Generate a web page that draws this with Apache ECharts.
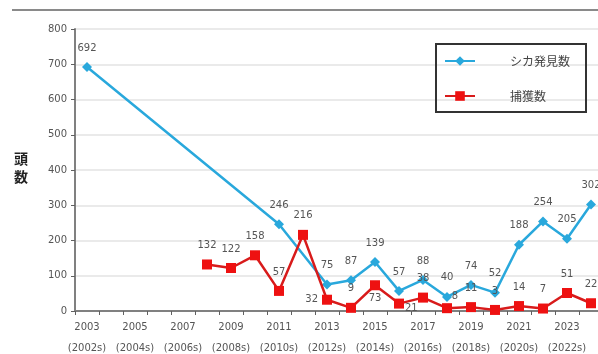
<!DOCTYPE html>
<html><head><meta charset="utf-8">
<script src="https://cdn.jsdelivr.net/npm/echarts@6/dist/echarts.min.js"></script>
<style>html,body{margin:0;padding:0;background:#fff}#c{width:598px;height:354px}</style>
</head><body><div id="c"></div>
<script>
const years = ['2003','2004','2005','2006','2007','2008','2009','2010','2011','2012','2013','2014','2015','2016','2017','2018','2019','2020','2021','2022','2023','2024'];
const yearLabels = {'2003':'(2002s)','2005':'(2004s)','2007':'(2006s)','2009':'(2008s)','2011':'(2010s)','2013':'(2012s)','2015':'(2014s)','2017':'(2016s)','2019':'(2018s)','2021':'(2020s)','2023':'(2022s)'};
const deerSighted = [692,null,null,null,null,null,null,null,246,null,75,87,139,57,88,40,74,52,188,254,205,302];
const captured = [null,null,null,null,null,132,122,158,57,216,32,9,73,21,38,8,11,3,14,7,51,22];
const yTicks = [0,100,200,300,400,500,600,700,800];
const seriesNames = ['シカ発見数','捕獲数'];

// label placement overrides (style, not data)
const redLabelStyle = {
  '2013':{position:'left', distance:4},
  '2015':{position:'bottom', distance:3},
  '2016':{position:'right', distance:1, offset:[0,5]},
  '2018':{position:'top', distance:2, offset:[8,0]}
};

const chart = echarts.init(document.getElementById('c'));
const lblFont = {fontFamily:'DejaVu Sans, sans-serif', fontSize:10, color:'#555'};
chart.setOption({
  animation:false,
  grid:{left:75, top:29, width:528, height:282, containLabel:false, outerBoundsMode:'none'},
  graphic:[
    {type:'line', shape:{x1:12,y1:10,x2:598,y2:10}, style:{stroke:'#8a8a8a', lineWidth:2}},
    {type:'text', left:14, top:150, style:{text:'頭\n数', font:'bold 14px "Noto Sans CJK JP"', fill:'#222', lineHeight:18}}
  ],
  legend:{
    orient:'vertical', left:436, top:44,
    borderColor:'#333', borderWidth:2, padding:[11,16,10,8],
    itemWidth:30, itemHeight:12, itemGap:23,
    textStyle:{fontFamily:'"Noto Sans CJK JP", sans-serif', fontSize:12, color:'#444', padding:[0,0,0,30]},
    data:seriesNames
  },
  xAxis:{
    type:'category', data:years, boundaryGap:true,
    axisLine:{lineStyle:{color:'#808080', width:2}},
    axisTick:{show:true, interval:0, length:4, lineStyle:{color:'#606060'}},
    axisLabel:{interval:1, margin:6, fontFamily:'DejaVu Sans, sans-serif', fontSize:10, color:'#555', lineHeight:21,
      formatter:v=>v+'\n'+(yearLabels[v]||'')}
  },
  yAxis:{
    type:'value', min:0, max:800, interval:100,
    axisLine:{show:true, lineStyle:{color:'#808080', width:2}},
    axisTick:{show:true, length:4, lineStyle:{color:'#606060'}},
    axisLabel:{margin:8, fontFamily:'DejaVu Sans, sans-serif', fontSize:10, color:'#555',
      formatter:v=>yTicks.includes(v)?String(v):''},
    splitLine:{lineStyle:{color:'#e3e3e3', width:1.5}}
  },
  series:[
    {name:seriesNames[0], type:'line', data:deerSighted, connectNulls:true,
     symbol:'diamond', symbolSize:10, itemStyle:{color:'#29a8dc'},
     lineStyle:{color:'#29a8dc', width:2.5},
     label:{show:true, position:'top', distance:9, ...lblFont}, z:3},
    {name:seriesNames[1], type:'line', data:captured.map((v,i)=>{
        const s = redLabelStyle[years[i]];
        return s ? {value:v, label:s} : v;
      }), connectNulls:true,
     symbol:'rect', symbolSize:10, itemStyle:{color:'#ee1111'},
     lineStyle:{color:'#d81b1b', width:2.5},
     label:{show:true, position:'top', distance:9, ...lblFont}, z:4}
  ]
});
</script></body></html>
